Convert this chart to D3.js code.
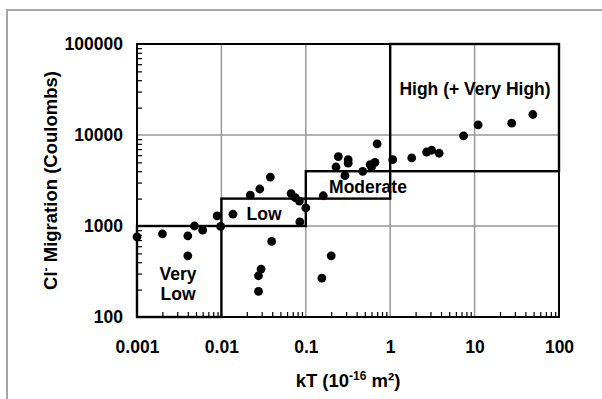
<!DOCTYPE html>
<html>
<head>
<meta charset="utf-8">
<script src="https://cdn.jsdelivr.net/npm/d3@7"></script>
<style>
  body { margin: 0; background: #fff; }
  text { font-family: "Liberation Sans", Arial, sans-serif; font-weight: bold; }
</style>
</head>
<body>
<div id="chart"></div>
<script>
// permeability (10^-16 m2) and charge passed (Coulombs)
const kT = [0.001, 0.002, 0.004, 0.004, 0.0048, 0.006, 0.0089, 0.0098, 0.0137, 0.022,
  0.0285, 0.038, 0.067, 0.075, 0.084, 0.085, 0.1, 0.0394, 0.0295, 0.0275, 0.0275,
  0.161, 0.2, 0.155, 0.228, 0.243, 0.291, 0.318, 0.318, 0.472, 0.58, 0.6, 0.66, 0.7,
  1.07, 1.8, 2.7, 3.1, 3.8, 7.4, 11, 27.5, 49];
const charge = [760, 820, 780, 470, 1000, 900, 1290, 990, 1350, 2180,
  2550, 3450, 2270, 2050, 1880, 1110, 1580, 677, 336, 284, 191,
  2150, 470, 268, 4450, 5800, 3570, 5350, 4900, 3980, 4720, 4450, 5000, 8000,
  5350, 5600, 6500, 6800, 6300, 9800, 12900, 13500, 16800];

// rating classes: [x0, x1, y0, y1]
const classNames = ["Very Low", "Low", "Moderate", "High (+ Very High)"];
const classBoxes = [
  [0.001, 0.01, 100, 1000],
  [0.01, 0.1, 1000, 2000],
  [0.1, 1, 2000, 4000],
  [1, 100, 4000, 100000]
];

const xTicks = [0.001, 0.01, 0.1, 1, 10, 100];
const yTicks = [100, 1000, 10000, 100000];

const width = 602, height = 399;
const margin = { top: 44, right: 43, bottom: 82, left: 137 };

const svg = d3.select("#chart").append("svg")
  .attr("width", width)
  .attr("height", height);

// outer gray frame
svg.append("rect")
  .attr("x", 7).attr("y", 10)
  .attr("width", 640).attr("height", 440)
  .attr("fill", "none")
  .attr("stroke", "#a6a6a6")
  .attr("stroke-width", 2);

const x = d3.scaleLog()
  .domain([0.001, 100])
  .range([margin.left, width - margin.right]);

const y = d3.scaleLog()
  .domain([100, 100000])
  .range([height - margin.bottom, margin.top]);

const x0 = margin.left, x1 = width - margin.right;
const y0 = height - margin.bottom, y1 = margin.top;

// grid
svg.append("g").selectAll("line")
  .data(xTicks.slice(1, -1))
  .join("line")
  .attr("x1", d => x(d)).attr("x2", d => x(d))
  .attr("y1", y1).attr("y2", y0)
  .attr("stroke", "#999").attr("stroke-width", 1.5);

svg.append("g").selectAll("line")
  .data(yTicks.slice(1, -1))
  .join("line")
  .attr("y1", d => y(d)).attr("y2", d => y(d))
  .attr("x1", x0).attr("x2", x1)
  .attr("stroke", "#999").attr("stroke-width", 1.5);

// minor ticks pointing into the plot
const xMinor = [];
for (let e = -3; e < 2; e++) for (let m = 2; m <= 9; m++) xMinor.push(m * Math.pow(10, e));
const yMinor = [];
for (let e = 2; e < 5; e++) for (let m = 2; m <= 9; m++) yMinor.push(m * Math.pow(10, e));

svg.append("g")
  .attr("transform", `translate(0,${y0})`)
  .call(d3.axisBottom(x).tickValues(xMinor).tickSize(-5).tickFormat(""))
  .call(g => g.select(".domain").remove())
  .selectAll("line").attr("stroke", "#000").attr("stroke-width", 1.2);

svg.append("g")
  .attr("transform", `translate(${x0},0)`)
  .call(d3.axisLeft(y).tickValues(yMinor).tickSize(-5).tickFormat(""))
  .call(g => g.select(".domain").remove())
  .selectAll("line").attr("stroke", "#000").attr("stroke-width", 1.2);

// tick labels
svg.append("g")
  .attr("transform", `translate(0,${y0})`)
  .call(d3.axisBottom(x).tickValues(xTicks).tickSize(0).tickPadding(24).tickFormat(d => String(d)))
  .call(g => g.select(".domain").remove())
  .selectAll("text")
  .attr("font-size", 17.5).attr("fill", "#000")
  .style("font-family", "Liberation Sans, Arial, sans-serif").style("font-weight", "bold");

svg.append("g")
  .attr("transform", `translate(${x0},0)`)
  .call(d3.axisLeft(y).tickValues(yTicks).tickSize(0).tickPadding(14).tickFormat(d => String(d)))
  .call(g => g.select(".domain").remove())
  .selectAll("text")
  .attr("font-size", 17.5).attr("fill", "#000")
  .style("font-family", "Liberation Sans, Arial, sans-serif").style("font-weight", "bold");

// class boxes
svg.append("g").selectAll("rect")
  .data(classBoxes)
  .join("rect")
  .attr("x", d => x(d[0]))
  .attr("y", d => y(d[3]))
  .attr("width", d => x(d[1]) - x(d[0]))
  .attr("height", d => y(d[2]) - y(d[3]))
  .attr("fill", "none")
  .attr("stroke", "#000")
  .attr("stroke-width", 2.4);

// plot frame
svg.append("rect")
  .attr("x", x0).attr("y", y1)
  .attr("width", x1 - x0).attr("height", y0 - y1)
  .attr("fill", "none")
  .attr("stroke", "#000")
  .attr("stroke-width", 2);

// class labels
const labels = svg.append("g").attr("font-size", 17.5).attr("text-anchor", "middle");
labels.append("text").attr("x", 178).attr("y", 280).text("Very");
labels.append("text").attr("x", 178).attr("y", 300).text("Low");
labels.append("text").attr("x", 264).attr("y", 220).text(classNames[1]);
labels.append("text").attr("x", 368).attr("y", 193).text(classNames[2]);
labels.append("text").attr("x", 475).attr("y", 95).text(classNames[3]);

// points
svg.append("g").selectAll("circle")
  .data(kT.map((d, i) => [d, charge[i]]))
  .join("circle")
  .attr("cx", d => x(d[0]))
  .attr("cy", d => y(d[1]))
  .attr("r", 4.4)
  .attr("fill", "#000");

// axis titles
const xt = svg.append("text")
  .attr("x", (x0 + x1) / 2)
  .attr("y", 387)
  .attr("font-size", 18.5)
  .attr("text-anchor", "middle");
xt.append("tspan").text("kT (10");
xt.append("tspan").attr("font-size", 12).attr("dy", -7).text("-16");
xt.append("tspan").attr("dy", 7).text(" m\u00b2)");

const yt = svg.append("text")
  .attr("transform", "rotate(-90)")
  .attr("x", -(y0 + y1) / 2)
  .attr("y", 57)
  .attr("font-size", 18.5)
  .attr("text-anchor", "middle");
yt.append("tspan").text("Cl");
yt.append("tspan").attr("font-size", 12).attr("dy", -7).text("-");
yt.append("tspan").attr("dy", 7).text(" Migration (Coulombs)");
</script>
</body>
</html>
